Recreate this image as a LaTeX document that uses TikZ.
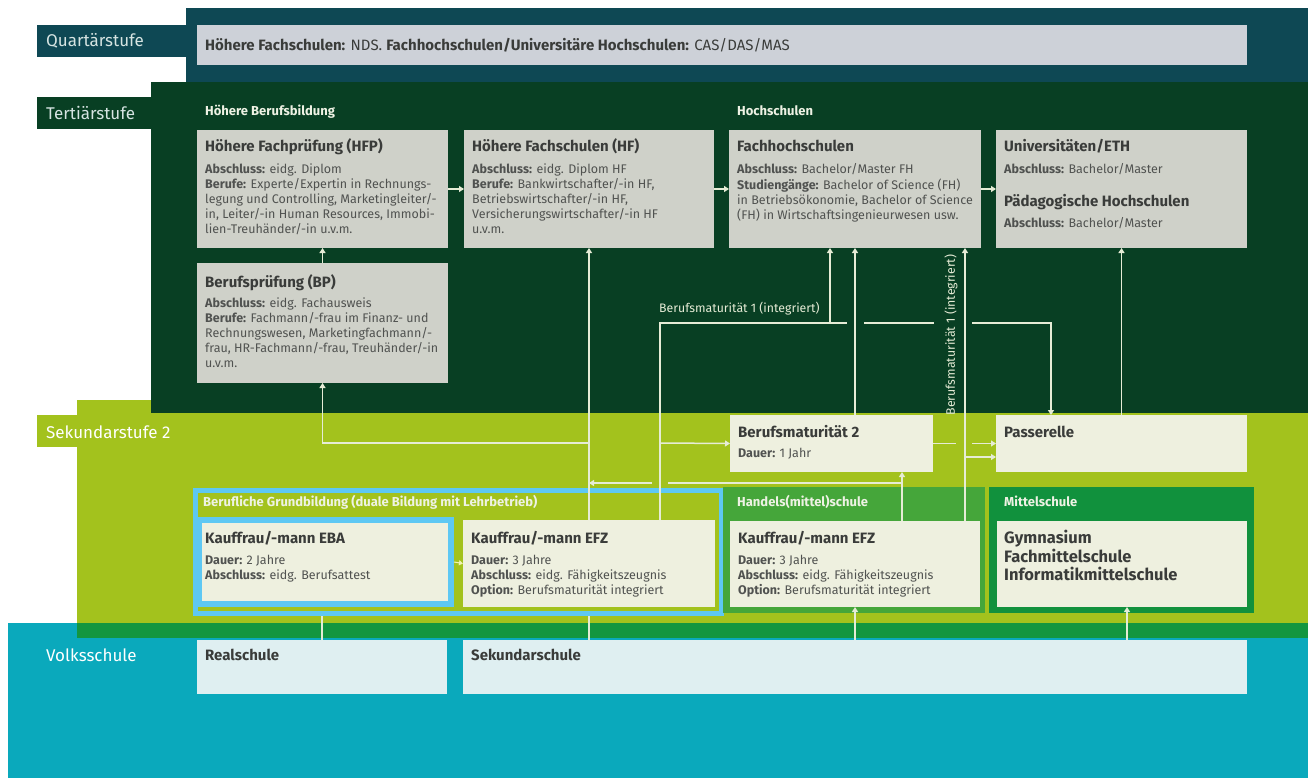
\documentclass[tikz,border=0pt]{standalone}
\usepackage{fontspec}
\setmainfont{Fira Sans}
\usetikzlibrary{arrows.meta}
\definecolor{quart}{HTML}{0E4854}
\definecolor{tert}{HTML}{083F23}
\definecolor{tbox}{HTML}{CFD1C9}
\definecolor{qbox}{HTML}{CDD1D8}
\definecolor{sek}{HTML}{A3C21D}
\definecolor{cream}{HTML}{EEF0DF}
\definecolor{lc}{HTML}{E6ECD6}
\definecolor{gbblue}{HTML}{5EC8F3}
\definecolor{vteal}{HTML}{0AA9BC}
\definecolor{vbox}{HTML}{DFEFF1}
\definecolor{stripe}{HTML}{13963F}
\definecolor{hsg}{HTML}{45A63A}
\definecolor{msg}{HTML}{11913D}
\definecolor{txt}{HTML}{3A3C3A}
\definecolor{btxt}{HTML}{505250}
\definecolor{ltxt}{HTML}{EEF2E4}
\definecolor{stxt}{HTML}{D6E4E2}
\newcommand\Bx[6]{\node[box,fill=#6,minimum width=#4pt,minimum height=#5pt] (#1) at (#2,#3) {};}
\begin{document}
\begin{tikzpicture}[x=1pt,y=-1pt,
  box/.style={anchor=north west, inner sep=0pt, outer sep=0pt, draw=none},
  ttl/.style={anchor=base west, inner sep=0pt, text=txt, font=\fontsize{15}{18}\selectfont\bfseries},
  bdy/.style={anchor=north west, inner sep=0pt, text=btxt, align=left, font=\fontsize{12.5}{15}\selectfont},
  hdr/.style={anchor=base west, inner sep=0pt, text=ltxt, font=\fontsize{13}{15}\selectfont\bfseries},
  stage/.style={anchor=west, inner sep=0pt, text=stxt, font=\fontsize{17}{20}\selectfont},
  lbl/.style={inner sep=0pt, text=lc, font=\fontsize{12.3}{14}\selectfont},
  ln/.style={draw=lc, line width=1.5pt},
  arr/.style={ln, -{Triangle[length=5pt,width=6pt]}},
]
\useasboundingbox (0,0) rectangle (1308,778);
\fill[white] (0,0) rectangle (1308,778);
% bands
\fill[sek] (77,400) rectangle (1308,623);
\fill[sek] (37,415) rectangle (77,447);
\fill[vteal] (8,623) rectangle (1308,778);
\fill[stripe] (77,623) rectangle (1308,638);
\fill[tert] (151,82) rectangle (1308,413);
\fill[tert] (37,97) rectangle (151,129);
\fill[quart] (186,8) rectangle (1308,82);
\fill[quart] (37,25) rectangle (186,57);
% stage labels
\node[stage] (lq) at (46,41) {Quartärstufe};
\node[stage] (lt) at (46,113) {Tertiärstufe};
\node[stage,text=white] (ls) at (46,432) {Sekundarstufe 2};
\node[stage,text=white] (lv) at (46,655) {Volksschule};
% quartaer
\Bx{qb}{197}{25}{1050}{40}{qbox}
\node[anchor=west, inner sep=0pt, text=txt, font=\fontsize{15}{18}\selectfont] (qbt) at ([xshift=8pt]qb.west) {\textbf{Höhere Fachschulen:} NDS. \textbf{Fachhochschulen/Universitäre Hochschulen:} CAS/DAS/MAS};
% tertiaer headers
\node[hdr] (hhb) at (205,116) {Höhere Berufsbildung};
\node[hdr] (hhs) at (737,116) {Hochschulen};
% tertiaer boxes
\Bx{hfp}{197}{130}{251}{118}{tbox}
\Bx{hf}{464}{130}{250}{118}{tbox}
\Bx{fh}{729}{130}{252}{118}{tbox}
\Bx{uni}{996}{130}{251}{118}{tbox}
\Bx{bp}{197}{263}{251}{120}{tbox}
\node[ttl] (hfpt) at ([shift={(8,22)}]hfp.north west) {Höhere Fachprüfung (HFP)};
\node[bdy] (hfpb) at ([shift={(8,33)}]hfp.north west) {\strut\textbf{Abschluss:} eidg. Diplom\\\textbf{Berufe:} Experte/Expertin in Rechnungs-\\legung und Controlling, Marketingleiter/-\\in, Leiter/-in Human Resources, Immobi-\\lien-Treuhänder/-in u.v.m.};
\node[ttl] (hft) at ([shift={(8,22)}]hf.north west) {Höhere Fachschulen (HF)};
\node[bdy] (hfb) at ([shift={(8,33)}]hf.north west) {\strut\textbf{Abschluss:} eidg. Diplom HF\\\textbf{Berufe:} Bankwirtschafter/-in HF,\\Betriebswirtschafter/-in HF,\\Versicherungswirtschafter/-in HF\\u.v.m.};
\node[ttl] (fht) at ([shift={(8,22)}]fh.north west) {Fachhochschulen};
\node[bdy] (fhb) at ([shift={(8,33)}]fh.north west) {\strut\textbf{Abschluss:} Bachelor/Master FH\\\textbf{Studiengänge:} Bachelor of Science (FH)\\in Betriebsökonomie, Bachelor of Science\\(FH) in Wirtschaftsingenieurwesen usw.};
\node[ttl] (unit) at ([shift={(8,22)}]uni.north west) {Universitäten/ETH};
\node[bdy] (unib) at ([shift={(8,33)}]uni.north west) {\strut\textbf{Abschluss:} Bachelor/Master};
\node[ttl] (pht) at ([shift={(8,76)}]uni.north west) {Pädagogische Hochschulen};
\node[bdy] (phb) at ([shift={(8,87)}]uni.north west) {\strut\textbf{Abschluss:} Bachelor/Master};
\node[ttl] (bpt) at ([shift={(8,24)}]bp.north west) {Berufsprüfung (BP)};
\node[bdy] (bpb) at ([shift={(8,34)}]bp.north west) {\strut\textbf{Abschluss:} eidg. Fachausweis\\\textbf{Berufe:} Fachmann/-frau im Finanz- und\\Rechnungswesen, Marketingfachmann/-\\frau, HR-Fachmann/-frau, Treuhänder/-in\\u.v.m.};
% sek 2 containers
\node[anchor=north west, inner sep=0pt, draw=gbblue, line width=5pt, fill=sek, minimum width=526pt, minimum height=123pt] (gb) at (192.5,487.5) {};
\Bx{hs}{723}{487}{262}{126}{hsg}
\Bx{ms}{989}{487}{265}{126}{msg}
\node[hdr] (gbt) at (203,506) {Berufliche Grundbildung (duale Bildung mit Lehrbetrieb)};
\node[hdr] (hst) at (737,506) {Handels(mittel)schule};
\node[hdr] (mst) at (1004,506) {Mittelschule};
% volksschule boxes
\Bx{real}{197}{640}{250}{54}{vbox}
\Bx{sek}{463}{640}{784}{54}{vbox}
\node[anchor=base west, inner sep=0pt, text=txt, font=\fontsize{15}{18}\selectfont\bfseries] (realt) at ([shift={(8,20)}]real.north west) {Realschule};
\node[anchor=base west, inner sep=0pt, text=txt, font=\fontsize{15}{18}\selectfont\bfseries] (sekt) at ([shift={(8,20)}]sek.north west) {Sekundarschule};
% sek 2 boxes
\node[anchor=north west, inner sep=0pt, outer sep=0pt, draw=gbblue, line width=6pt, fill=cream, minimum width=252pt, minimum height=84pt] (eba) at (199,520) {};
\Bx{efz}{463}{520}{252}{87}{cream}
\Bx{hefz}{730}{521}{250}{86}{cream}
\Bx{msb}{997}{521}{250}{86}{cream}
\Bx{bm2}{730}{415}{203}{57}{cream}
\Bx{pas}{996}{415}{251}{57}{cream}
\node[ttl] (ebat) at ([shift={(6,23)}]eba.north west) {Kauffrau/-mann EBA};
\node[bdy] (ebab) at ([shift={(6,33.5)}]eba.north west) {\strut\textbf{Dauer:} 2 Jahre\\\textbf{Abschluss:} eidg. Berufsattest};
\node[ttl] (efzt) at ([shift={(8,23)}]efz.north west) {Kauffrau/-mann EFZ};
\node[bdy] (efzb) at ([shift={(8,33.5)}]efz.north west) {\strut\textbf{Dauer:} 3 Jahre\\\textbf{Abschluss:} eidg. Fähigkeitszeugnis\\\textbf{Option:} Berufsmaturität integriert};
\node[ttl] (hefzt) at ([shift={(8,22)}]hefz.north west) {Kauffrau/-mann EFZ};
\node[bdy] (hefzb) at ([shift={(8,32.5)}]hefz.north west) {\strut\textbf{Dauer:} 3 Jahre\\\textbf{Abschluss:} eidg. Fähigkeitszeugnis\\\textbf{Option:} Berufsmaturität integriert};
\node[anchor=north west, inner sep=0pt, align=left, text=txt, font=\fontsize{16.5}{17.5}\selectfont\bfseries] (msbt) at ([shift={(7,8.5)}]msb.north west) {\strut Gymnasium\\Fachmittelschule\\Informatikmittelschule};
\node[ttl] (bm2t) at ([shift={(8,22)}]bm2.north west) {Berufsmaturität 2};
\node[bdy] (bm2b) at ([shift={(8,31.5)}]bm2.north west) {\strut\textbf{Dauer:} 1 Jahr};
\node[ttl] (past) at ([shift={(8,22)}]pas.north west) {Passerelle};
% labels
\node[lbl, anchor=base west] (bm1h) at (659,312) {Berufsmaturität 1 (integriert)};
\node[lbl, rotate=90] (bm1v) at (951,335) {Berufsmaturität 1 (integriert)};
% coordinates
\coordinate (j443) at (589,443);
\coordinate (v660a) at (660,520);
\coordinate (v660b) at (660,323);
\coordinate (h1) at (847,323);
\coordinate (h2) at (864,323);
\coordinate (h3) at (934,323);
\coordinate (h4) at (972,323);
\coordinate (h5) at (1051,323);
\coordinate (j830) at (830,323);
\coordinate (j660) at (660,443);
\coordinate (k1) at (956,443.5);
\coordinate (k2) at (972,443.5);
\coordinate (m1) at (965,457);
\coordinate (n1) at (902,483);
\coordinate (n2) at (668,483);
\coordinate (n3) at (652,483);
\coordinate (n4) at (589,483);
\coordinate (d1) at ([xshift=5pt]msb.south);
% tertiary arrows
\draw[arr] (hfp.east) -- (hf.west);
\draw[arr] (hf.east) -- (fh.west);
\draw[arr] (fh.east) -- (uni.west);
\draw[arr] (bp.north) -- (hfp.south);
% network
\draw[arr] (efz.north) -- (efz.north |- hf.south);
\draw[arr] (j443) -- (bp.south |- j443) -- (bp.south);
\draw[ln] (v660a) -- (v660b) -- (h1);
\draw[ln] (h2) -- (h3);
\draw[arr] (h4) -- (h5) -- (h5 |- pas.north);
\draw[arr] (j830) -- (j830 |- fh.south);
\draw[arr] (j660) -- (bm2.west);
\draw[arr] (855,0 |- bm2.north) -- (855,0 |- fh.south);
\draw[arr] (965,0 |- hefz.north) -- (965,0 |- fh.south);
\draw[arr] (m1) -- (pas.west |- m1);
\draw[ln] (bm2.east) -- (k1);
\draw[arr] (k2) -- (pas.west |- k2);
\draw[arr] (902,0 |- hefz.north) -- (902,0 |- bm2.south);
\draw[ln] (n1) -- (n2);
\draw[arr] (n3) -- (n4);
\draw[arr] (pas.north) -- (uni.south);
\draw[arr, draw=cream!80!yellow, line width=1pt, -{Triangle[length=4pt,width=5pt]}] ([xshift=3pt]eba.east) -- (efz.west);
% from volksschule
\draw[ln] (real.north) -- (real.north |- gb.south);
\draw[ln] (efz.south |- sek.north) -- (efz.south |- gb.south);
\draw[arr] (hefz.south |- sek.north) -- (hefz.south);
\draw[arr] (d1 |- sek.north) -- (d1);
\end{tikzpicture}
\end{document}
